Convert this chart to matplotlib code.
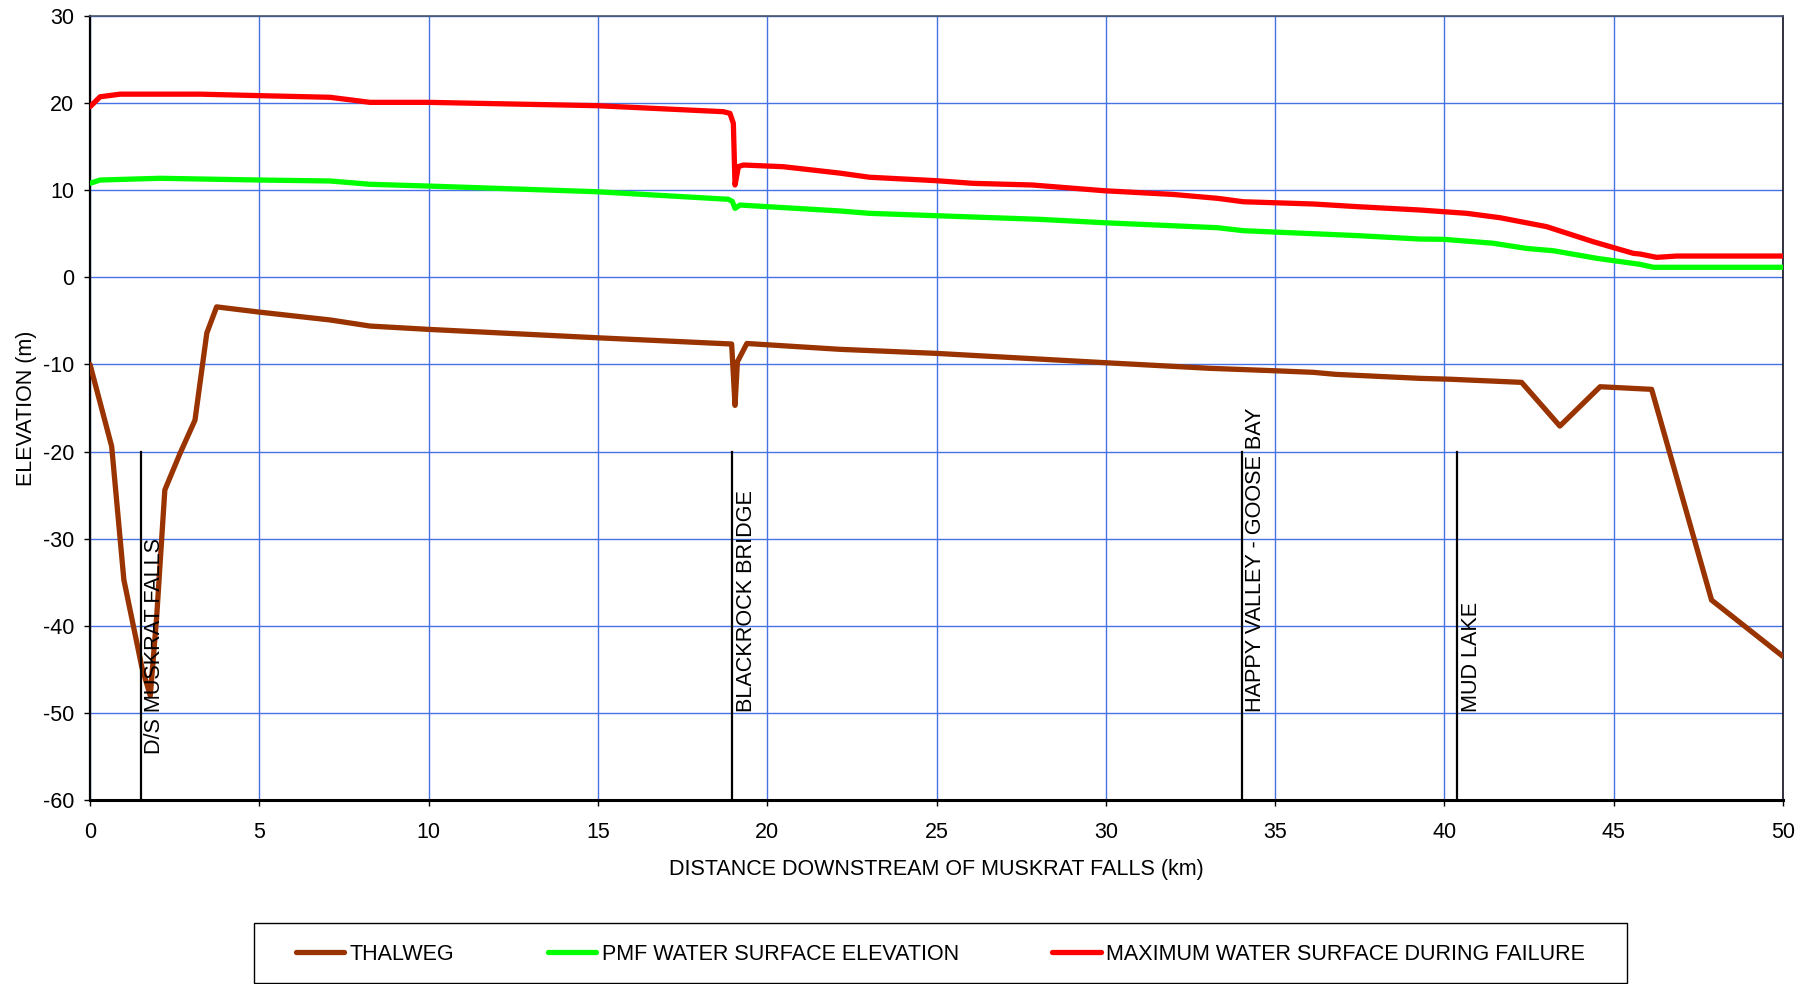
import matplotlib
matplotlib.use("Agg")
import matplotlib.pyplot as plt
from matplotlib.patches import Rectangle
from matplotlib import transforms

plt.rcParams['font.family'] = ['Liberation Sans', 'DejaVu Sans']
plt.rcParams['axes.unicode_minus'] = False

# Thalweg profile (distance km, elevation m)
thalweg_km = [0, 0.64, 1.0, 1.53, 1.78, 1.97, 2.21, 2.66, 3.1, 3.45, 3.74, 5.0,
              7.09, 8.27, 9.99, 14.96, 18.95, 19.05, 19.12, 19.4, 22.15, 24.97,
              29.96, 33.08, 34.94, 36.13, 36.79, 39.28, 40.17, 42.28, 43.41,
              44.6, 46.12, 47.89, 50.0]
thalweg_m = [-10.0, -19.4, -34.7, -44.7, -48.0, -38.9, -24.4, -20.2, -16.4, -6.4,
             -3.4, -4.0, -4.9, -5.6, -5.98, -6.94, -7.66, -14.7, -9.7, -7.6,
             -8.27, -8.73, -9.8, -10.45, -10.72, -10.91, -11.14, -11.6, -11.7,
             -12.06, -17.07, -12.56, -12.86, -37.03, -43.5]

# PMF water surface elevation
pmf_km = [0, 0.3, 2.07, 5.0, 7.09, 8.27, 9.99, 14.96, 18.85, 18.97, 19.05, 19.2,
          19.98, 22.15, 23.02, 24.97, 28.05, 29.96, 33.3, 34.06, 34.94, 37.45,
          39.28, 39.97, 41.44, 42.43, 43.22, 44.5, 45.78, 46.17, 50.0]
pmf_m = [10.77, 11.15, 11.35, 11.15, 11.04, 10.66, 10.46, 9.81, 8.94, 8.7, 7.9,
         8.28, 8.1, 7.6, 7.33, 7.06, 6.64, 6.25, 5.68, 5.34, 5.19, 4.77, 4.38,
         4.35, 3.9, 3.3, 3.04, 2.17, 1.48, 1.14, 1.14]

# Maximum water surface during failure
fail_km = [0, 0.3, 0.89, 3.25, 5.0, 7.09, 8.27, 9.99, 14.96, 18.7, 18.9, 19.0,
           19.05, 19.15, 19.3, 20.47, 22.15, 23.02, 24.97, 26.08, 27.83, 29.96,
           31.98, 33.3, 34.06, 34.94, 36.13, 37.45, 39.28, 39.97, 40.66, 41.64,
           43.02, 44.4, 45.58, 45.78, 46.27, 46.86, 50.0]
fail_m = [19.56, 20.7, 21.0, 21.0, 20.83, 20.64, 20.06, 20.06, 19.68, 18.99,
          18.8, 17.65, 10.58, 12.7, 12.87, 12.68, 11.94, 11.47, 11.08, 10.77,
          10.58, 9.92, 9.5, 9.05, 8.66, 8.55, 8.4, 8.09, 7.71, 7.52, 7.33, 6.83,
          5.8, 4.07, 2.74, 2.66, 2.28, 2.43, 2.43]

# Reference locations along the river
site_names = ["D/S MUSKRAT FALLS", "BLACKROCK BRIDGE",
              "HAPPY VALLEY - GOOSE BAY", "MUD LAKE"]
site_km = [1.5, 18.97, 34.02, 40.38]
site_label_base = [-54.7, -49.85, -49.85, -49.85]

x_ticks = [0, 5, 10, 15, 20, 25, 30, 35, 40, 45, 50]
y_ticks = [-60, -50, -40, -30, -20, -10, 0, 10, 20, 30]

FS = 15.5
W, H = 1810, 984
fig = plt.figure(figsize=(W / 100, H / 100), dpi=100)
ax = fig.add_axes([90 / W, 1 - 800.3 / H, (1783 - 90) / W, (800.3 - 15.7) / H])

grid_col = '#4672E6'
ax.set_xlim(0, 50)
ax.set_ylim(-60, 30)
ax.set_xticks(x_ticks)
ax.set_yticks(y_ticks)
ax.grid(True, color=grid_col, linewidth=1.0, zorder=0)
ax.set_axisbelow(True)

ax.plot(thalweg_km, thalweg_m, color='#993300', lw=3.8, label='THALWEG',
        solid_joinstyle='round', solid_capstyle='round', zorder=3)
ax.plot(pmf_km, pmf_m, color='#00FF00', lw=3.8, label='PMF WATER SURFACE ELEVATION',
        solid_joinstyle='round', solid_capstyle='round', zorder=3)
ax.plot(fail_km, fail_m, color='#FF0000', lw=3.8,
        label='MAXIMUM WATER SURFACE DURING FAILURE',
        solid_joinstyle='round', solid_capstyle='round', zorder=3)

# Site markers with vertical labels
txt_tr = transforms.offset_copy(ax.transData, fig=fig, x=2.5, y=0, units='points')
for name, xk, yb in zip(site_names, site_km, site_label_base):
    ax.plot([xk, xk], [-20, -60], color='black', lw=1.6, zorder=4)
    ax.text(xk, yb, name, rotation=90, ha='left', va='bottom', fontsize=15.6,
            color='black', transform=txt_tr, zorder=5)

for side in ['left', 'bottom']:
    ax.spines[side].set_color('black')
ax.spines['left'].set_linewidth(1.6)
ax.spines['bottom'].set_linewidth(2.2)
ax.spines['top'].set_color('#4a5468')
ax.spines['top'].set_linewidth(1.2)
ax.spines['right'].set_color('#101020')
ax.spines['right'].set_linewidth(1.2)

ax.tick_params(axis='both', direction='out', length=4.3, width=1.0,
               labelsize=FS, colors='black')
ax.tick_params(axis='x', pad=11.5)
ax.tick_params(axis='y', pad=7)

ax.set_xlabel('DISTANCE DOWNSTREAM OF MUSKRAT FALLS (km)', fontsize=FS, labelpad=11)
ax.set_ylabel('ELEVATION (m)', fontsize=FS, labelpad=4)

# Legend box along the bottom of the figure
fig.patches.append(Rectangle((254 / W, 1 - 983 / H), 1373 / W, 60 / H,
                             transform=fig.transFigure, facecolor='white',
                             edgecolor='black', linewidth=1.0))
handles, labels = ax.get_legend_handles_labels()
fig.legend(handles, labels, loc='center', bbox_to_anchor=(940.5 / W, 1 - 954 / H),
           ncol=3, frameon=False, fontsize=FS, handlelength=2.23,
           handletextpad=0.25, columnspacing=4.36)

fig.savefig('out.png', dpi=100)
